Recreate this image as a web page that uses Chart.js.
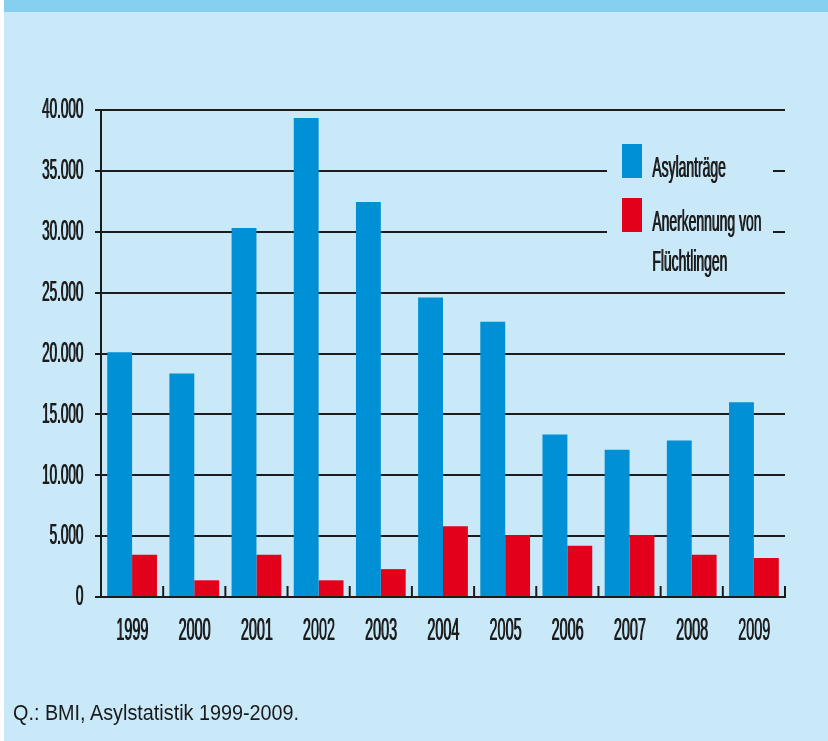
<!DOCTYPE html>
<html>
<head>
<meta charset="utf-8">
<script src="https://cdn.jsdelivr.net/npm/chart.js@4/dist/chart.umd.min.js"></script>
<style>
  html, body { margin: 0; padding: 0; background: #ffffff; }
  #panel { position: absolute; left: 4px; top: 0; width: 824px; height: 741px; background: #c9e8f8; overflow: hidden; }
  #band { position: absolute; left: 0; top: 0; width: 824px; height: 12px; background: #86cff0; }
  #wrap { position: absolute; left: 0; top: 0; width: 828px; height: 741px; }
  #source { position: absolute; left: 13px; top: 700px; font-family: "Liberation Sans", Arial, sans-serif; font-size: 22px; color: #1a1a1a; transform: scaleX(0.9); transform-origin: left top; white-space: nowrap; }
</style>
</head>
<body>
<div id="panel"><div id="band"></div></div>
<div id="wrap"><canvas id="c" width="828" height="741"></canvas></div>
<div id="source">Q.: BMI, Asylstatistik 1999-2009.</div>
<script>
// ---- data ----
const years = ['1999', '2000', '2001', '2002', '2003', '2004', '2005', '2006', '2007', '2008', '2009'];
const asylumApplications = [20100, 18350, 30300, 39350, 32450, 24600, 22600, 13350, 12100, 12850, 16000];
const refugeeRecognitions = [3470, 1370, 3470, 1370, 2290, 5810, 5100, 4200, 5100, 3470, 3210];
const yTickValues = [0, 5000, 10000, 15000, 20000, 25000, 30000, 35000, 40000];
const yTickLabels = ['0', '5.000', '10.000', '15.000', '20.000', '25.000', '30.000', '35.000', '40.000'];
const seriesLabels = [['Asylanträge'], ['Anerkennung von', 'Flüchtlingen']];

const BLUE = '#0090d5';
const RED = '#e2001a';
const INK = '#1c1c1c';
const BG = '#c9e8f8';
const CONDENSE = 0.45;
const THICKEN = 0.7; // extra horizontal stem weight in device pixels

// condensed text rendering (reference uses a very narrow typeface)
function drawCondensed(ctx, orig, text, x, y, factor, maxWidth) {
  ctx.save();
  ctx.translate(x, y);
  ctx.scale(factor, 1);
  const off = THICKEN / factor;
  if (maxWidth === undefined) {
    orig.call(ctx, text, 0, 0);
    orig.call(ctx, text, off, 0);
  } else {
    orig.call(ctx, text, 0, 0, maxWidth / factor);
    orig.call(ctx, text, off, 0, maxWidth / factor);
  }
  ctx.restore();
}

const condensedText = {
  id: 'condensedText',
  beforeInit(chart) {
    const ctx = chart.ctx;
    const orig = CanvasRenderingContext2D.prototype.fillText;
    ctx._origFillText = orig;
    ctx.fillText = function (text, x, y, maxWidth) {
      drawCondensed(this, orig, text, x, y, CONDENSE, maxWidth);
    };
  }
};

// upward tick marks on the baseline at category boundaries
const baseTicks = {
  id: 'baseTicks',
  afterDatasetsDraw(chart) {
    const xs = chart.scales.x, ys = chart.scales.y, ctx = chart.ctx;
    const step = (xs.right - xs.left) / years.length;
    const y0 = ys.getPixelForValue(0);
    ctx.save();
    ctx.strokeStyle = INK;
    ctx.lineWidth = 2;
    for (let i = 1; i <= years.length; i++) {
      const x = xs.getPixelForValue(i - 1) + step / 2;
      ctx.beginPath();
      ctx.moveTo(x, y0 + 1);
      ctx.lineTo(x, y0 - 11);
      ctx.stroke();
    }
    ctx.restore();
  }
};

// legend box drawn inside the plot area (covers gridlines)
const insideLegend = {
  id: 'insideLegend',
  afterDatasetsDraw(chart) {
    const ctx = chart.ctx, area = chart.chartArea;
    const bx = area.right - 178, by = area.top + 22, bw = 166, bh = 155;
    ctx.save();
    ctx.fillStyle = BG;
    ctx.fillRect(bx, by, bw, bh);
    const items = chart.data.datasets;
    const rows = [area.top + 34, area.top + 88];
    items.forEach((ds, i) => {
      const top = rows[i];
      ctx.fillStyle = ds.backgroundColor;
      ctx.fillRect(bx + 15, top, 20, 34);
      ctx.fillStyle = INK;
      ctx.font = '29px "Liberation Sans", Arial, sans-serif';
      ctx.textAlign = 'left';
      ctx.textBaseline = 'alphabetic';
      seriesLabels[i].forEach((ln, j) => {
        drawCondensed(ctx, ctx._origFillText, ln, bx + 45, top + 33 + j * 40, 0.48);
      });
    });
    ctx.restore();
  }
};

new Chart(document.getElementById('c'), {
  type: 'bar',
  data: {
    labels: years,
    datasets: [
      { label: seriesLabels[0].join(' '), data: asylumApplications, backgroundColor: BLUE, borderWidth: 0 },
      { label: seriesLabels[1].join(' '), data: refugeeRecognitions, backgroundColor: RED, borderWidth: 0 }
    ]
  },
  options: {
    responsive: false,
    animation: false,
    devicePixelRatio: 1,
    layout: { padding: { left: 0, top: 110, right: 43, bottom: 0 } },
    datasets: { bar: { categoryPercentage: 0.8, barPercentage: 1.0 } },
    plugins: { legend: { display: false }, tooltip: { enabled: false } },
    scales: {
      x: {
        grid: { display: false, drawTicks: false },
        border: { display: false },
        ticks: {
          color: INK,
          padding: 15,
          maxRotation: 0,
          autoSkip: false,
          font: { family: '"Liberation Sans", Arial, sans-serif', size: 32 }
        },
        afterFit(s) { s.height = 144; }
      },
      y: {
        min: 0,
        max: 40000,
        afterBuildTicks(s) { s.ticks = yTickValues.map(v => ({ value: v })); },
        grid: { color: INK, lineWidth: 2, tickLength: 6, drawTicks: true },
        border: { display: true, color: INK, width: 2 },
        ticks: {
          color: INK,
          padding: 12,
          font: { family: '"Liberation Sans", Arial, sans-serif', size: 30 },
          callback: (v, i) => yTickLabels[i]
        },
        afterFit(s) { s.width = 101; }
      }
    }
  },
  plugins: [condensedText, baseTicks, insideLegend]
});
</script>
</body>
</html>
